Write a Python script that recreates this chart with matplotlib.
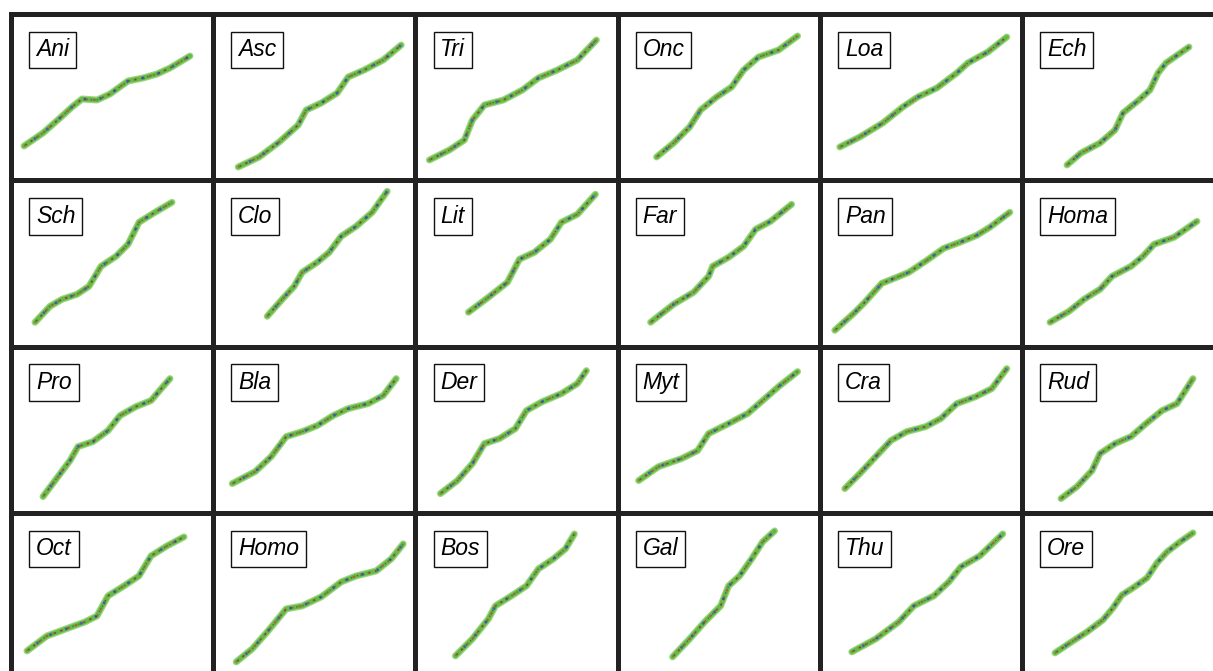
import matplotlib.pyplot as plt

plt.rcParams['font.family'] = ['Liberation Sans', 'DejaVu Sans']

# figure size in pixels and grid cell geometry
W, H = 1213, 671
CELL_W, CELL_H = 202.2, 166.3
X_OFF, Y_OFF = 11, 14
NCOLS = 6

labels = ['Ani', 'Asc', 'Tri', 'Onc', 'Loa', 'Ech',
          'Sch', 'Clo', 'Lit', 'Far', 'Pan', 'Homa',
          'Pro', 'Bla', 'Der', 'Myt', 'Cra', 'Rud',
          'Oct', 'Homo', 'Bos', 'Gal', 'Thu', 'Ore']

# traces: (x, y) in cell units, y measured downward from the cell top
ani = [(13, 132), (32, 119), (49, 104), (61, 93), (71, 85), (86, 86), (99, 80),
       (117, 67), (132, 64), (146, 60), (159, 54), (179, 42)]
asc = [(25, 153), (46, 143), (66, 128), (85, 111), (93, 96), (108, 89), (124, 79),
       (135, 63), (151, 56), (170, 46), (188, 31)]
tri = [(14, 146), (34, 136), (49, 126), (57, 106), (69, 91), (88, 86), (107, 76),
       (123, 64), (142, 56), (162, 46), (181, 26)]
onc = [(39, 143), (56, 129), (72, 113), (83, 96), (99, 83), (114, 73), (126, 56),
       (141, 43), (161, 36), (180, 22)]
loa = [(20, 133), (40, 123), (63, 109), (83, 93), (98, 83), (117, 74), (137, 59),
       (148, 49), (168, 38), (187, 23)]
ech = [(45, 151), (59, 139), (78, 129), (93, 116), (101, 99), (117, 86), (128, 76),
       (136, 59), (144, 49), (167, 33)]
sch = [(24, 142), (39, 126), (51, 119), (66, 114), (78, 106), (90, 86), (105, 76),
       (117, 64), (128, 42), (144, 32), (161, 22)]
clo = [(54, 136), (69, 119), (81, 106), (89, 92), (104, 82), (116, 72), (128, 56),
       (143, 46), (159, 32), (174, 11)]
lit = [(53, 132), (73, 117), (92, 102), (104, 79), (119, 72), (135, 59), (146, 42),
       (162, 34), (180, 14)]
far = [(33, 142), (56, 124), (76, 112), (91, 96), (95, 86), (111, 77), (126, 66),
       (138, 49), (153, 41), (174, 24)]
pan = [(15, 150), (34, 133), (44, 123), (62, 103), (77, 97), (89, 92), (107, 80),
       (124, 68), (140, 62), (157, 55), (170, 47), (190, 32)]
homa = [(28, 142), (47, 131), (62, 119), (78, 109), (90, 96), (109, 86), (121, 76),
        (132, 64), (152, 57), (175, 41)]
pro = [(32, 150), (47, 130), (59, 114), (67, 100), (82, 95), (97, 84), (109, 69),
       (125, 60), (140, 54), (152, 40), (159, 32)]
bla = [(19, 137), (42, 125), (58, 110), (73, 90), (89, 85), (104, 79), (120, 69),
       (135, 62), (155, 57), (170, 49), (183, 32)]
der = [(25, 147), (42, 134), (57, 117), (69, 97), (84, 92), (100, 82), (111, 64),
       (127, 55), (146, 47), (162, 37), (171, 24)]
myt = [(21, 134), (41, 120), (64, 112), (80, 104), (91, 87), (111, 77), (130, 67),
       (145, 54), (161, 40), (180, 25)]
cra = [(25, 142), (40, 127), (56, 110), (71, 94), (87, 85), (106, 80), (121, 72),
       (137, 57), (156, 50), (172, 42), (187, 22)]
rud = [(39, 152), (55, 140), (70, 124), (78, 107), (93, 97), (109, 90), (124, 77),
       (140, 64), (155, 57), (171, 32)]
oct_ = [(16, 138), (36, 123), (55, 116), (74, 109), (86, 103), (97, 83), (113, 73),
        (128, 63), (140, 43), (156, 33), (173, 24)]
homo = [(23, 149), (39, 136), (54, 119), (73, 96), (89, 93), (108, 84), (128, 69),
        (143, 63), (163, 58), (178, 46), (190, 31)]
bos = [(40, 143), (57, 126), (73, 106), (80, 93), (96, 83), (111, 73), (123, 56),
       (138, 46), (150, 36), (159, 21)]
gal = [(55, 144), (72, 126), (87, 109), (103, 93), (111, 73), (122, 63), (134, 46),
       (145, 29), (157, 18)]
thu = [(32, 139), (56, 126), (79, 109), (94, 93), (114, 83), (129, 69), (141, 54),
       (160, 43), (183, 21)]
ore = [(33, 140), (48, 130), (65, 119), (81, 107), (91, 95), (100, 82), (111, 75),
       (125, 65), (135, 50), (145, 39), (158, 29), (171, 20)]

traces = [ani, asc, tri, onc, loa, ech,
          sch, clo, lit, far, pan, homa,
          pro, bla, der, myt, cra, rud,
          oct_, homo, bos, gal, thu, ore]

fig = plt.figure(figsize=(W / 100, H / 100), dpi=100)
fig.patch.set_facecolor('white')

for i, (name, pts) in enumerate(zip(labels, traces)):
    row, col = divmod(i, NCOLS)
    x0 = X_OFF + col * CELL_W
    y0 = Y_OFF + row * CELL_H
    ax = fig.add_axes([x0 / W, 1 - (y0 + CELL_H) / H, CELL_W / W, CELL_H / H])
    ax.set_xlim(0, CELL_W)
    ax.set_ylim(CELL_H, 0)
    ax.set_xticks([])
    ax.set_yticks([])
    for sp in ax.spines.values():
        sp.set_linewidth(3.6)
        sp.set_color('#222222')

    xs = [p[0] for p in pts]
    ys = [p[1] for p in pts]
    # green band with speckled coloured strands on top
    ax.plot(xs, ys, color='#9ad67e', lw=5.0, solid_capstyle='round',
            solid_joinstyle='round', zorder=2)
    ax.plot(xs, ys, color='#66bb47', lw=3.2, solid_capstyle='round',
            solid_joinstyle='round', zorder=3)
    ax.plot(xs, ys, color='#b8483e', lw=1.4, alpha=0.75,
            linestyle=(0, (1.5, 2.5)), zorder=4)
    ax.plot(xs, ys, color='#3556c8', lw=2.0, alpha=0.85,
            linestyle=(1.5, (0.8, 5)), zorder=4)
    ax.plot(xs, ys, color='#34402a', lw=1.0, alpha=0.6,
            linestyle=(3, (1, 3.5)), zorder=4)

    ax.text(25, 24.5, name, ha='left', va='top', fontsize=16.5, style='italic',
            color='black', zorder=5,
            bbox=dict(boxstyle='square,pad=0.3', facecolor='white',
                      edgecolor='#111111', linewidth=1.0))

fig.savefig('out.png', dpi=100, facecolor='white')
